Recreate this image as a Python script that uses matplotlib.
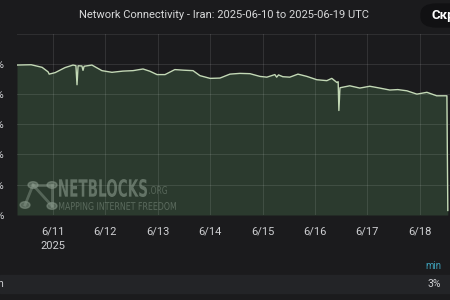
import numpy as np
import pandas as pd
from matplotlib import pyplot as plt
from matplotlib.patches import Circle, FancyBboxPatch, Rectangle, PathPatch
from matplotlib.lines import Line2D
from matplotlib.textpath import TextPath
from matplotlib.font_manager import FontProperties
from matplotlib.transforms import Affine2D, IdentityTransform

# Data
times = [
    '2025-06-10 07:30', '2025-06-10 14:00', '2025-06-10 19:00', '2025-06-10 21:45',
    '2025-06-10 22:15', '2025-06-11 01:00', '2025-06-11 05:30', '2025-06-11 09:10',
    '2025-06-11 10:30', '2025-06-11 11:00', '2025-06-11 11:30', '2025-06-11 13:15',
    '2025-06-11 13:45', '2025-06-11 14:15', '2025-06-11 17:50', '2025-06-11 22:25',
    '2025-06-12 03:00', '2025-06-12 08:00', '2025-06-12 12:40', '2025-06-12 17:15',
    '2025-06-12 20:25', '2025-06-12 23:40', '2025-06-13 03:20', '2025-06-13 07:50',
    '2025-06-13 12:00', '2025-06-13 16:10', '2025-06-13 19:20', '2025-06-14 00:00',
    '2025-06-14 04:30', '2025-06-14 09:05', '2025-06-14 13:40', '2025-06-14 18:15',
    '2025-06-14 22:50', '2025-06-15 02:00', '2025-06-15 05:40', '2025-06-15 06:30',
    '2025-06-15 07:20', '2025-06-15 09:20', '2025-06-15 12:30', '2025-06-15 16:15',
    '2025-06-15 20:20', '2025-06-16 00:55', '2025-06-16 05:30', '2025-06-16 07:45',
    '2025-06-16 10:05', '2025-06-16 10:40', '2025-06-16 11:00', '2025-06-16 11:30',
    '2025-06-16 16:00', '2025-06-16 20:35', '2025-06-17 01:10', '2025-06-17 05:45',
    '2025-06-17 10:20', '2025-06-17 14:00', '2025-06-17 18:10', '2025-06-17 22:45',
    '2025-06-18 03:20', '2025-06-18 07:50', '2025-06-18 12:30', '2025-06-18 12:55',
]
connectivity = [
    99.0, 99.2, 97.5, 94.5,
    93.0, 94.0, 97.3, 99.0,
    98.6, 86.0, 98.5, 98.4,
    95.5, 98.2, 99.0, 95.3,
    94.2, 95.0, 95.3, 96.4,
    94.9, 92.7, 92.7, 96.0,
    95.6, 95.3, 92.0, 90.2,
    90.4, 93.0, 93.5, 93.3,
    91.5, 91.0, 92.7, 91.0,
    92.5, 91.3, 91.0, 93.0,
    91.5, 89.3, 88.7, 90.2,
    87.5, 88.0, 69.0, 84.0,
    85.3, 83.8, 85.0, 83.8,
    82.5, 82.8, 82.0, 79.8,
    81.0, 78.7, 78.7, 3.0,
]
y_ticks = [0, 20, 40, 60, 80, 100]
day_ticks = ['2025-06-11', '2025-06-12', '2025-06-13', '2025-06-14',
             '2025-06-15', '2025-06-16', '2025-06-17', '2025-06-18']
title = 'Network Connectivity - Iran: 2025-06-10 to 2025-06-19 UTC'

t = pd.to_datetime(times)
ticks = pd.to_datetime(day_ticks)

bg = '#1b1b1d'
text_col = '#cfd0d3'
W, H = 450, 300


def fit_text(fig, s, x0, y_top, w, h, color, alpha, weight='normal'):
    # text as a path squeezed into a pixel box (condensed look of the logo)
    tp = TextPath((0, 0), s, size=20, prop=FontProperties(family='DejaVu Sans', weight=weight))
    ext = tp.get_extents()
    sx = w / ext.width
    sy = h / ext.height
    tr = Affine2D().translate(-ext.x0, -ext.y0).scale(sx, sy).translate(x0, H - y_top - h)
    fig.patches.append(PathPatch(tr.transform_path(tp), transform=IdentityTransform(),
                                 color=color, alpha=alpha, lw=0))


fig = plt.figure(figsize=(4.5, 3), dpi=100, facecolor=bg)
# axes extends past the right edge (screenshot is cropped)
ax = fig.add_axes([17/W, (H-215)/H, (472-17)/W, (215-34)/H])
ax.set_facecolor(bg)

ax.fill_between(t, connectivity, 0, color='#2b3a2e', lw=0, zorder=1)
ax.plot(t, connectivity, color='#c3d9b6', lw=1.0, zorder=3)

ax.set_ylim(0, 119.5)
ax.set_xlim(pd.Timestamp('2025-06-10 07:30'), pd.Timestamp('2025-06-19 00:00'))
ax.set_yticks(y_ticks)
ax.set_yticklabels([f'{v}%' for v in y_ticks])
ax.set_xticks(ticks)
ax.set_xticklabels([f'{d.month}/{d.day}' for d in ticks])
ax.grid(True, color='#ffffff', alpha=0.10, lw=0.8, zorder=2)
ax.tick_params(length=0, colors=text_col, labelsize=8)
ax.tick_params(axis='y', pad=9)
ax.tick_params(axis='x', pad=8.5)
for s in ax.spines.values():
    s.set_visible(False)
ax.axhline(119.5, color='#ffffff', alpha=0.10, lw=1.2, zorder=2)
for lab in ax.get_xticklabels() + ax.get_yticklabels():
    lab.set_family('Roboto')

fig.text(53/W, 1-246/H, '2025', ha='center', va='center', color=text_col,
         fontsize=8, family='Roboto')

fig.text(224/W, 1-15/H, title, ha='center', va='center', color='#d8d9da',
         fontsize=8, family='Roboto')

# button on the right, cropped
fig.patches.append(FancyBboxPatch((421/W, 1-27/H), 60/W, 23/H,
                                  boxstyle='round,pad=0,rounding_size=0.035',
                                  transform=fig.transFigure, color='#111113', zorder=0))
fig.text(432/W, 1-15/H, 'Скрыть', ha='left', va='center', color='white',
         fontsize=9.5, fontweight='bold', family='Roboto')

# watermark
wm = '#8a9a8c'
nodes = [(33, 185), (52, 185), (25, 205), (52, 206)]
for (a, b) in [(0, 1), (0, 2), (0, 3), (1, 3)]:
    fig.lines.append(Line2D([nodes[a][0]/W, nodes[b][0]/W], [1-nodes[a][1]/H, 1-nodes[b][1]/H],
                            transform=fig.transFigure, color=wm, alpha=0.45, lw=2))
for (x, y) in nodes:
    fig.patches.append(Circle((x/W, 1-y/H), 5/W, transform=fig.transFigure,
                              color=wm, alpha=0.5))
fit_text(fig, 'NETBLOCKS', 59, 179, 88, 18, wm, 0.6, weight='bold')
fit_text(fig, '.ORG', 149, 186, 18, 8, wm, 0.45)
fit_text(fig, 'MAPPING INTERNET FREEDOM', 59, 202, 117, 8, wm, 0.5)

# legend row
fig.patches.append(Rectangle((0, 1-293/H), 1, 18/H, transform=fig.transFigure,
                             color='#232427', zorder=0))
fig.text(441/W, 1-266/H, 'min', ha='right', va='center', color='#3d9db5',
         fontsize=7, family='Roboto')
fig.text(441/W, 1-284/H, '3%', ha='right', va='center', color=text_col,
         fontsize=7.5, family='Roboto')
fig.text(4/W, 1-284/H, 'Iran', ha='right', va='center', color=text_col,
         fontsize=7.5, family='Roboto')

fig.savefig('out.png', dpi=100, facecolor=bg)
